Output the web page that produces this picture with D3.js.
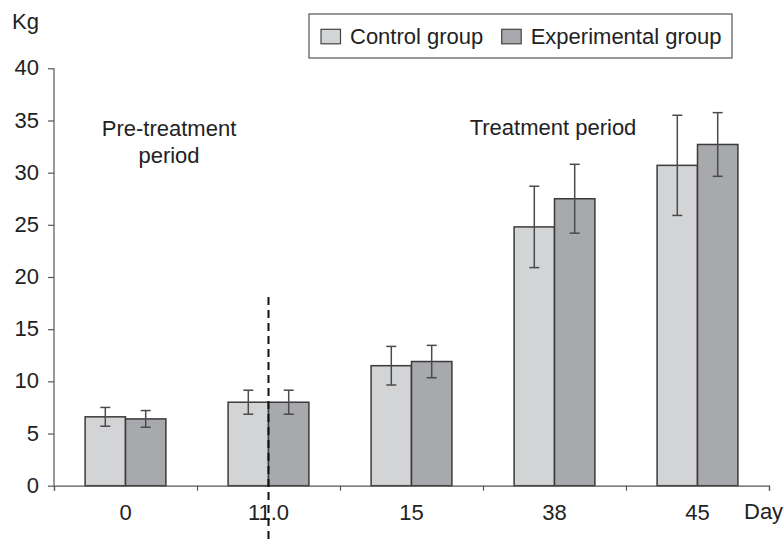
<!DOCTYPE html>
<html>
<head>
<meta charset="utf-8">
<script src="https://cdn.jsdelivr.net/npm/d3@7"></script>
<style>
  body { margin: 0; background: #fff; }
  svg { display: block; font-family: "Liberation Sans", Arial, sans-serif; }
</style>
</head>
<body>
<svg width="784" height="539"></svg>
<script>
// valores
var days = ["0", "11.0", "15", "38", "45"];
var groups = ["Control group", "Experimental group"];
var controlMean = [6.6, 8.0, 11.5, 24.8, 30.7];
var controlErr = [0.9, 1.15, 1.85, 3.9, 4.8];
var expMean = [6.4, 8.0, 11.9, 27.5, 32.7];
var expErr = [0.8, 1.15, 1.55, 3.3, 3.05];
var yTicks = [0, 5, 10, 15, 20, 25, 30, 35, 40];

function dibujar() {
var data = days.map(function(d, i) {
  return { day: d, values: [
    { key: groups[0], mean: controlMean[i], err: controlErr[i] },
    { key: groups[1], mean: expMean[i], err: expErr[i] }
  ]};
});

var svg = d3.select("svg"),
    x0 = 54, x9 = 769, yTop = 68.3, yBot = 485.7;

var x = d3.scaleBand().domain(days).range([x0, x9]);
var x1 = d3.scaleBand().domain(groups).range([0, x.bandwidth()]).paddingOuter(0.77);
var y = d3.scaleLinear().domain([0, 40]).range([yBot, yTop]);
var color = d3.scaleOrdinal().domain(groups).range(["#d3d4d6", "#a8a9ac"]);

// barras
var grp = svg.append("g").selectAll("g")
  .data(data)
  .enter().append("g")
   .attr("transform", function(d) { return "translate(" + x(d.day) + ",0)"; });

grp.selectAll("rect")
  .data(function(d) { return d.values; })
  .enter().append("rect")
   .attr("x", function(d) { return x1(d.key); })
   .attr("y", function(d) { return y(d.mean); })
   .attr("width", x1.bandwidth())
   .attr("height", function(d) { return y(0) - y(d.mean); })
   .attr("fill", function(d) { return color(d.key); })
   .attr("stroke", "#3a3a3a")
   .attr("stroke-width", 1.5);

// barras de error
var eb = grp.selectAll("g.err")
  .data(function(d) { return d.values; })
  .enter().append("g")
   .attr("class", "err")
   .attr("stroke", "#4a4a4a")
   .attr("stroke-width", 1.5);

eb.append("line")
  .attr("x1", function(d) { return x1(d.key) + x1.bandwidth() / 2; })
  .attr("x2", function(d) { return x1(d.key) + x1.bandwidth() / 2; })
  .attr("y1", function(d) { return y(d.mean + d.err); })
  .attr("y2", function(d) { return y(d.mean - d.err); });
[1, -1].forEach(function(s) {
  eb.append("line")
    .attr("x1", function(d) { return x1(d.key) + x1.bandwidth() / 2 - 5; })
    .attr("x2", function(d) { return x1(d.key) + x1.bandwidth() / 2 + 5; })
    .attr("y1", function(d) { return y(d.mean + s * d.err); })
    .attr("y2", function(d) { return y(d.mean + s * d.err); });
});

// eje y
var yAxis = svg.append("g")
  .attr("transform", "translate(" + x0 + ",0)")
  .call(d3.axisLeft(y).tickValues(yTicks).tickSize(6).tickPadding(9));
yAxis.select(".domain").attr("d", "M0," + yTop + "V" + yBot);

// eje x: marcas en los limites, etiquetas en el centro
var xb = d3.scaleLinear().domain([0, days.length]).range([x0, x9]);
svg.append("g")
  .attr("transform", "translate(0," + yBot + ")")
  .call(d3.axisBottom(xb).ticks(days.length).tickSize(5).tickFormat(""));
var xAxis = svg.append("g")
  .attr("transform", "translate(0," + yBot + ")")
  .call(d3.axisBottom(x).tickSize(0).tickPadding(19));
xAxis.select(".domain").remove();

svg.selectAll(".tick text").attr("font-size", 22).attr("fill", "#222");
yAxis.selectAll(".tick text").attr("dy", "0.3em");
svg.selectAll(".domain, .tick line").attr("stroke", "#555").attr("stroke-width", 1.2);

// linea punteada
svg.append("line")
  .attr("x1", x(days[1]) + x.bandwidth() / 2)
  .attr("x2", x(days[1]) + x.bandwidth() / 2)
  .attr("y1", 297)
  .attr("y2", 539)
  .attr("stroke", "#111")
  .attr("stroke-width", 2)
  .attr("stroke-dasharray", "8,5");

// textos
var txt = svg.append("g").attr("fill", "#222").attr("font-size", 22);
txt.append("text").attr("x", 12).attr("y", 29.3).text("Kg");
txt.append("text").attr("x", 744).attr("y", 519).text("Day");
txt.append("text").attr("x", 169).attr("y", 135.7).attr("text-anchor", "middle").text("Pre-treatment");
txt.append("text").attr("x", 169).attr("y", 163.3).attr("text-anchor", "middle").text("period");
txt.append("text").attr("x", 553).attr("y", 135).attr("text-anchor", "middle").text("Treatment period");

// leyenda
var legend = svg.append("g");
legend.append("rect")
  .attr("x", 309).attr("y", 14).attr("width", 423).attr("height", 44)
  .attr("fill", "#fff").attr("stroke", "#555").attr("stroke-width", 1.2);
var li = legend.selectAll("g")
  .data(groups)
  .enter().append("g")
   .attr("transform", function(d, i) { return "translate(" + [321, 501.7][i] + ",0)"; });
li.append("rect")
  .attr("y", 29.3).attr("width", 19.5).attr("height", 14.5)
  .attr("fill", color).attr("stroke", "#444").attr("stroke-width", 1.2);
li.append("text")
  .attr("x", 29).attr("y", 44.3)
  .attr("font-size", 22).attr("fill", "#222")
  .text(function(d) { return d; });
}
dibujar();
</script>
</body>
</html>
